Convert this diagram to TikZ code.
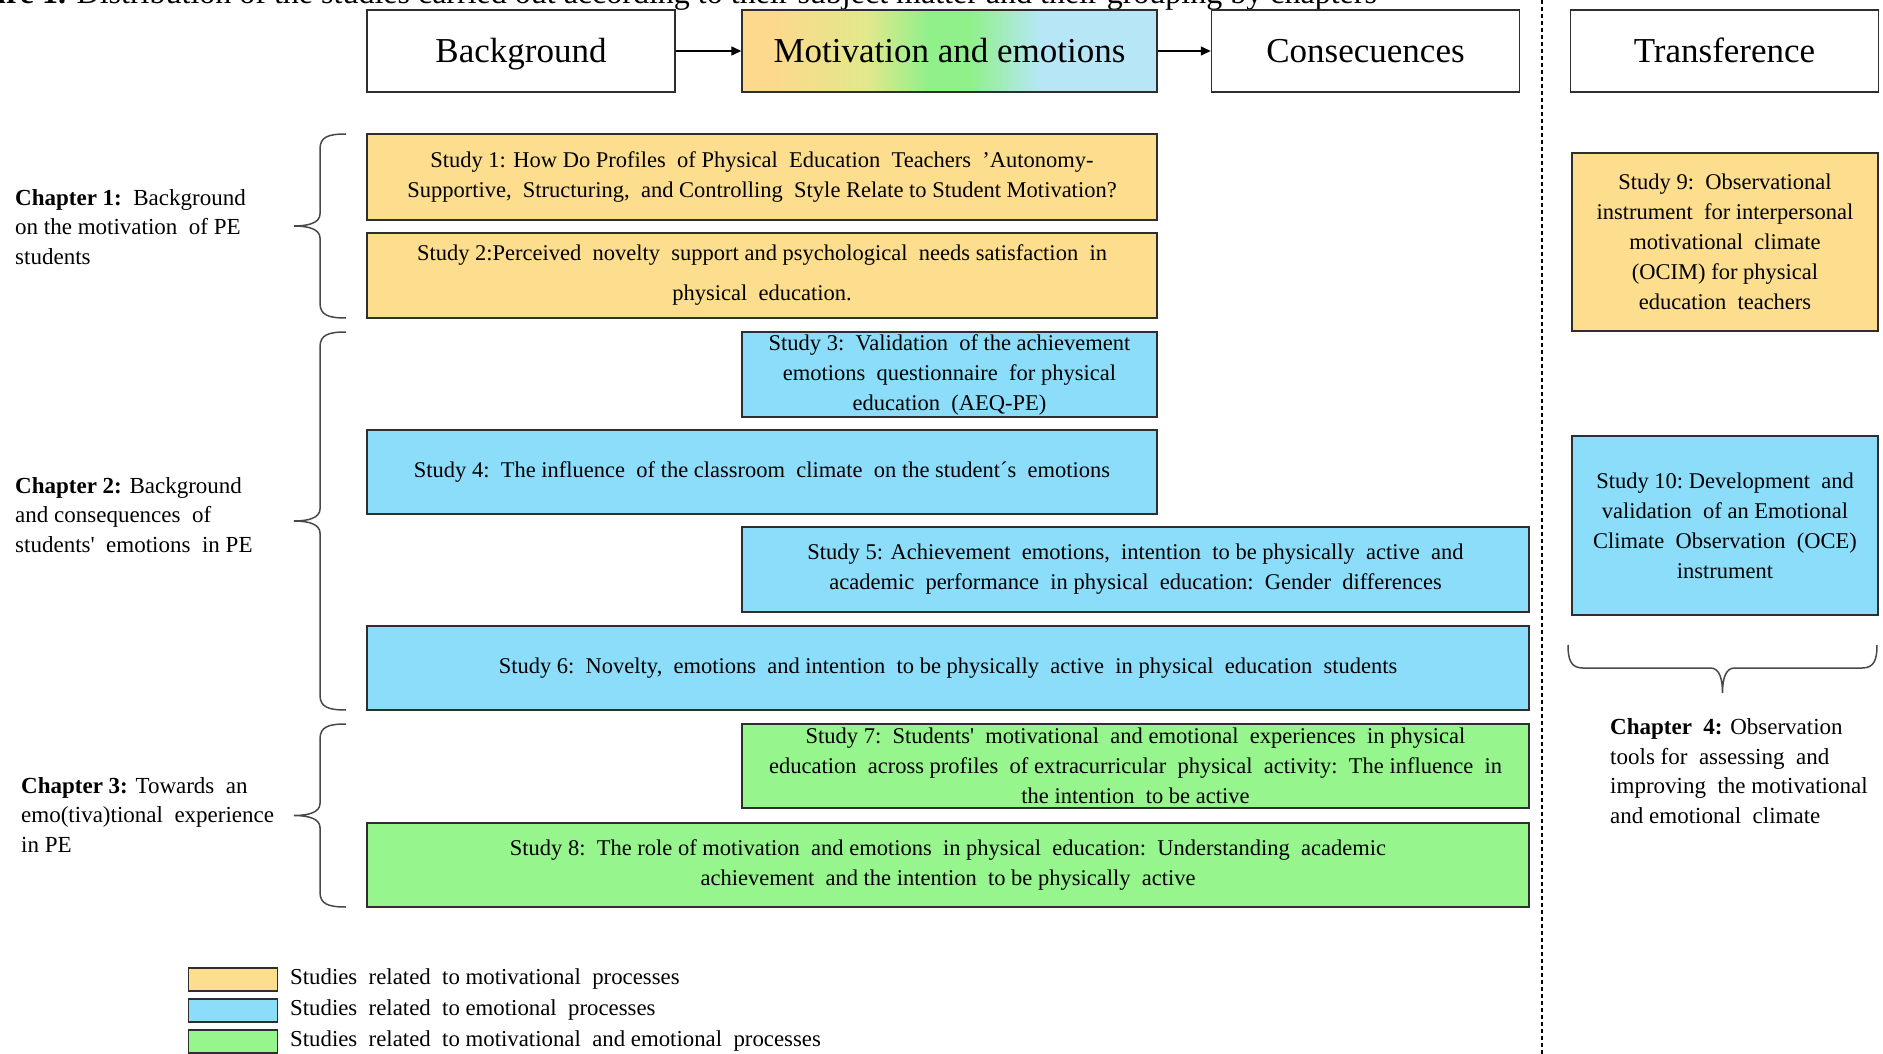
\documentclass[tikz,border=0pt]{standalone}
\usepackage{fontspec}
\setmainfont{Liberation Serif}
\usetikzlibrary{arrows.meta}

\definecolor{motivfill}{HTML}{FDDE8E}
\definecolor{emofill}{HTML}{8CDDFA}
\definecolor{bothfill}{HTML}{96F58C}
\definecolor{boxline}{HTML}{2E2E2E}
\definecolor{bracegray}{HTML}{484848}
\definecolor{gradorange}{HTML}{FCD98C}
\definecolor{gradyellow}{HTML}{E2E88C}
\definecolor{gradgreen}{HTML}{90F08A}
\definecolor{gradblue}{HTML}{B7E7F7}

% left-to-right blend used for the central header box
\pgfdeclarehorizontalshading{motemo}{100bp}{%
  color(0bp)=(gradorange); color(25bp)=(gradorange); color(29bp)=(gradorange);
  color(40bp)=(gradyellow); color(47.5bp)=(gradgreen); color(52.5bp)=(gradgreen);
  color(61bp)=(gradblue); color(75bp)=(gradblue); color(100bp)=(gradblue)}

% study box between the corners (#2,#3) and (#4,#5)
\newcommand\studyat[7]{%
  \node[studybox,fill=#6,minimum width={#4-#2},minimum height={#5-#3}]
    (#1) at ({(#2+#4)/2},{(#3+#5)/2}) {#7};}

% opening curly brace: top y #1, bottom y #2, ends at x #3, tip pointing left
\newcommand\vbrace[3]{%
  \draw[chbrace] (#3,#1) .. controls ({#3-18},#1) and ({#3-26},{#1+3}) .. ({#3-26},{#1+15})
    -- ({#3-26},{(#1+#2)/2-12}) .. controls ({#3-26},{(#1+#2)/2-3}) and ({#3-38},{(#1+#2)/2}) .. ({#3-52},{(#1+#2)/2})
    .. controls ({#3-38},{(#1+#2)/2}) and ({#3-26},{(#1+#2)/2+3}) .. ({#3-26},{(#1+#2)/2+12})
    -- ({#3-26},{#2-15}) .. controls ({#3-26},{#2-3}) and ({#3-18},#2) .. (#3,#2);}

% brace lying under a column: ends at y #1, from x #2 to x #3, tip pointing down
\newcommand\hbrace[3]{%
  \draw[chbrace] (#2,#1) .. controls (#2,{#1+15}) and ({#2+3},{#1+23}) .. ({#2+15},{#1+23})
    -- ({(#2+#3)/2-12},{#1+23}) .. controls ({(#2+#3)/2-3},{#1+23}) and ({(#2+#3)/2},{#1+34}) .. ({(#2+#3)/2},{#1+48})
    .. controls ({(#2+#3)/2},{#1+34}) and ({(#2+#3)/2+3},{#1+23}) .. ({(#2+#3)/2+12},{#1+23})
    -- ({#3-15},{#1+23}) .. controls ({#3-3},{#1+23}) and (#3,{#1+15}) .. (#3,#1);}

\begin{document}
\begin{tikzpicture}[x=1pt,y=-1pt,
  headbox/.style={draw=boxline,line width=1.5pt,inner sep=0pt,
    minimum width=308,minimum height=82,text height=24pt,text depth=0pt,
    font=\fontsize{35}{42}\selectfont},
  studybox/.style={draw=boxline,line width=1.5pt,inner sep=0pt,align=center,
    font=\fontsize{22.5}{30}\selectfont},
  flowarrow/.style={line width=1.5pt,draw=black,-{Triangle[length=10pt,width=9pt]}},
  chapter/.style={anchor=west,align=left,inner sep=0pt,font=\fontsize{23}{29.5}\selectfont},
  chbrace/.style={draw=bracegray,line width=1.5pt},
  divider/.style={draw=black,line width=1.3pt,dash pattern=on 4pt off 3pt},
  legbox/.style={draw=boxline,line width=1.5pt,inner sep=0pt,minimum width=89,minimum height=23},
  legtext/.style={anchor=west,inner sep=0pt,font=\fontsize{22.8}{26}\selectfont}
]
\useasboundingbox (0,0) rectangle (1883,1054);
\fill[white] (0,0) rectangle (1883,1054);

% caption running off the top edge
\node[anchor=base east,inner sep=0pt,font=\fontsize{32}{38}\selectfont] (caption) at (1377,3.5)
  {\textbf{Figure 1.} Distribution of the studies carried out according to their subject matter and their grouping by chapters};

% column headers
\node[headbox] (bg) at (521,51) {Background};
\node[headbox,minimum width=415,shading=motemo] (me) at (949.5,51) {Motivation and emotions};
\node[headbox] (cons) at (1365.5,51) {Consecuences};
\node[headbox] (trans) at (1724.5,51) {Transference};
\draw[flowarrow] (bg.east) -- (me.west);
\draw[flowarrow] (me.east) -- (cons.west);

% divider between the flow and the transference column
\coordinate (divtop) at (1542,0);
\coordinate (divbot) at (1542,1054);
\draw[divider] (divtop) -- (divbot);

% studies
\studyat{s1}{367}{134}{1157}{220}{motivfill}{Study 1: How Do Profiles\ \ of Physical\ \ Education\ \ Teachers\ \ ’Autonomy-\\Supportive,\ \ Structuring,\ \ and Controlling\ \ Style Relate to Student Motivation?}
\studyat{s2}{367}{233}{1157}{318}{motivfill}{Study 2:Perceived\ \ novelty\ \ support and psychological\ \ needs satisfaction\ \ in\\[10pt]physical\ \ education.}
\studyat{s3}{742}{332}{1157}{417}{emofill}{Study 3:\ \ Validation\ \ of the achievement\\emotions\ \ questionnaire\ \ for physical\\education\ \ (AEQ-PE)}
\studyat{s4}{367}{430}{1157}{514}{emofill}{Study 4:\ \ The influence\ \ of the classroom\ \ climate\ \ on the student´s\ \ emotions}
\studyat{s5}{742}{527}{1529}{612}{emofill}{Study 5: Achievement\ \ emotions,\ \ intention\ \ to be physically\ \ active\ \ and\\academic\ \ performance\ \ in physical\ \ education:\ \ Gender\ \ differences}
\studyat{s6}{367}{626}{1529}{710}{emofill}{Study 6:\ \ Novelty,\ \ emotions\ \ and intention\ \ to be physically\ \ active\ \ in physical\ \ education\ \ students}
\studyat{s7}{742}{724}{1529}{808}{bothfill}{Study 7:\ \ Students\textquotesingle\ \ motivational\ \ and emotional\ \ experiences\ \ in physical\\education\ \ across profiles\ \ of extracurricular\ \ physical\ \ activity:\ \ The influence\ \ in\\the intention\ \ to be active}
\studyat{s8}{367}{823}{1529}{907}{bothfill}{Study 8:\ \ The role of motivation\ \ and emotions\ \ in physical\ \ education:\ \ Understanding\ \ academic\\achievement\ \ and the intention\ \ to be physically\ \ active}
\studyat{s9}{1572}{153}{1878}{331}{motivfill}{Study 9:\ \ Observational\\instrument\ \ for interpersonal\\motivational\ \ climate\\(OCIM) for physical\\education\ \ teachers}
\studyat{s10}{1572}{436}{1878}{615}{emofill}{Study 10:\ Development\ \ and\\validation\ \ of an Emotional\\Climate\ \ Observation\ \ (OCE)\\instrument}

% chapter braces
\vbrace{134}{318}{346}
\vbrace{332}{710}{346}
\vbrace{724}{907}{346}
\hbrace{645}{1568}{1877}

% chapter labels
\node[chapter] (ch1) at (15,227) {\textbf{Chapter 1:}\ \ Background\\on the motivation\ \ of PE\\students};
\node[chapter] (ch2) at (15,515) {\textbf{Chapter 2:} Background\\and consequences\ \ of\\students\textquotesingle\ \ emotions\ \ in PE};
\node[chapter] (ch3) at (21,815) {\textbf{Chapter 3:} Towards\ \ an\\emo(tiva)tional\ \ experience\\in PE};
\node[chapter] (ch4) at (1610,771) {\textbf{Chapter\ \ 4:} Observation\\tools for\ \ assessing\ \ and\\improving\ \ the motivational\\and emotional\ \ climate};

% legend
\node[legbox,fill=motivfill] (lg1) at (233,979.5) {};
\node[legbox,fill=emofill] (lg2) at (233,1010.5) {};
\node[legbox,fill=bothfill] (lg3) at (233,1041.5) {};
\node[legtext] (lt1) at (290,979.5) {Studies\ \ related\ \ to motivational\ \ processes};
\node[legtext] (lt2) at (290,1010.5) {Studies\ \ related\ \ to emotional\ \ processes};
\node[legtext] (lt3) at (290,1041.5) {Studies\ \ related\ \ to motivational\ \ and emotional\ \ processes};
\end{tikzpicture}
\end{document}
